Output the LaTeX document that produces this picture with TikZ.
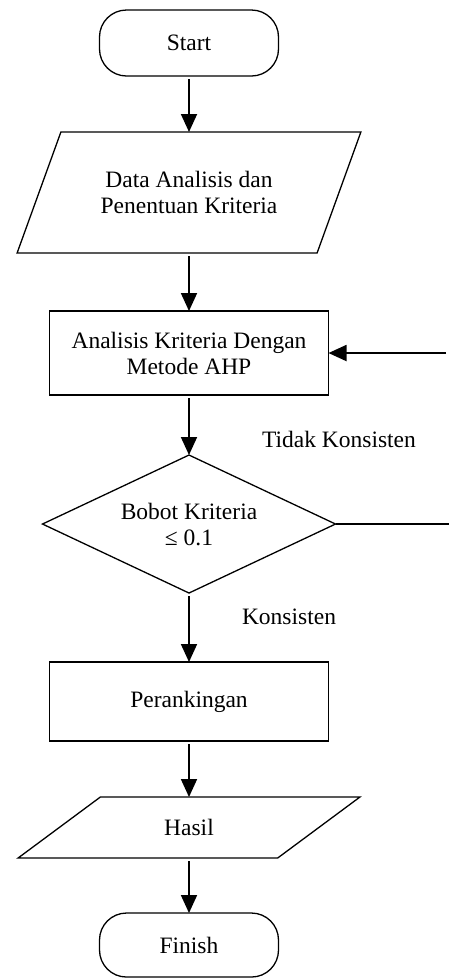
\documentclass[tikz,border=0pt]{standalone}
\usepackage{fontspec}
\setmainfont{Liberation Serif}
\usetikzlibrary{shapes.geometric, arrows.meta, positioning}
\tikzset{
    x=1pt, y=1pt, node distance=56pt,
    base/.style={draw, line width=1.3pt, align=center, inner sep=0pt, outer sep=0pt,
                 font=\fontsize{23.5}{26}\selectfont}, % all boxes share this
    terminal/.style={base, rectangle, rounded corners=27pt, minimum width=179pt, minimum height=66pt},
    io/.style={base, trapezium, trapezium stretches=true, minimum width=344pt},
    process/.style={base, rectangle, minimum width=279pt, minimum height=84pt},
    decision/.style={base, diamond, shape aspect=2.12, minimum width=293pt, minimum height=138pt},
    flow/.style={-{Triangle[length=18pt,width=16pt]}, line width=1.8pt, shorten <=3pt},
    plain/.style={line width=1.3pt},
    lbl/.style={font=\fontsize{23.5}{26}\selectfont}
}
\begin{document}
\begin{tikzpicture}
  \useasboundingbox (0,0) rectangle (449,-978);
  \node [terminal] (start) at (189,-43) {Start};
  \node [io, minimum height=121pt, trapezium left angle=54.6, trapezium right angle=125.4,
         below=56pt of start] (data) {Data Analisis dan\\Penentuan Kriteria};
  \node [process, below=58pt of data] (analisis) {Analisis Kriteria Dengan\\Metode AHP};
  \node [decision, below=60pt of analisis] (bobot) {Bobot Kriteria\\≤ 0.1};
  \node [process, minimum height=79pt, below=69pt of bobot] (ranking) {Perankingan};
  \node [io, minimum height=61pt, trapezium left angle=35.7, trapezium right angle=144.3,
         below=56pt of ranking] (hasil) {Hasil};
  \node [terminal, minimum height=64pt, below=55pt of hasil] (finish) {Finish};
  % edge labels
  \node [lbl] (tidak) at (339,-439) {Tidak Konsisten};
  \node [lbl] (konsisten) at (289,-617) {Konsisten};
  % connectors
  \draw [flow] (start) -- (data);
  \draw [flow] (data) -- (analisis);
  \draw [flow] (analisis) -- (bobot);
  \draw [flow] (bobot) -- (ranking);
  \draw [flow] (ranking) -- (hasil);
  \draw [flow] (hasil) -- (finish);
  % loop back (runs off the right edge)
  \coordinate (edge) at (449,0);
  \draw [plain] (bobot.east) -- (bobot.east -| edge);
  \draw [flow] (analisis.east -| edge) -- (analisis.east);
\end{tikzpicture}
\end{document}
